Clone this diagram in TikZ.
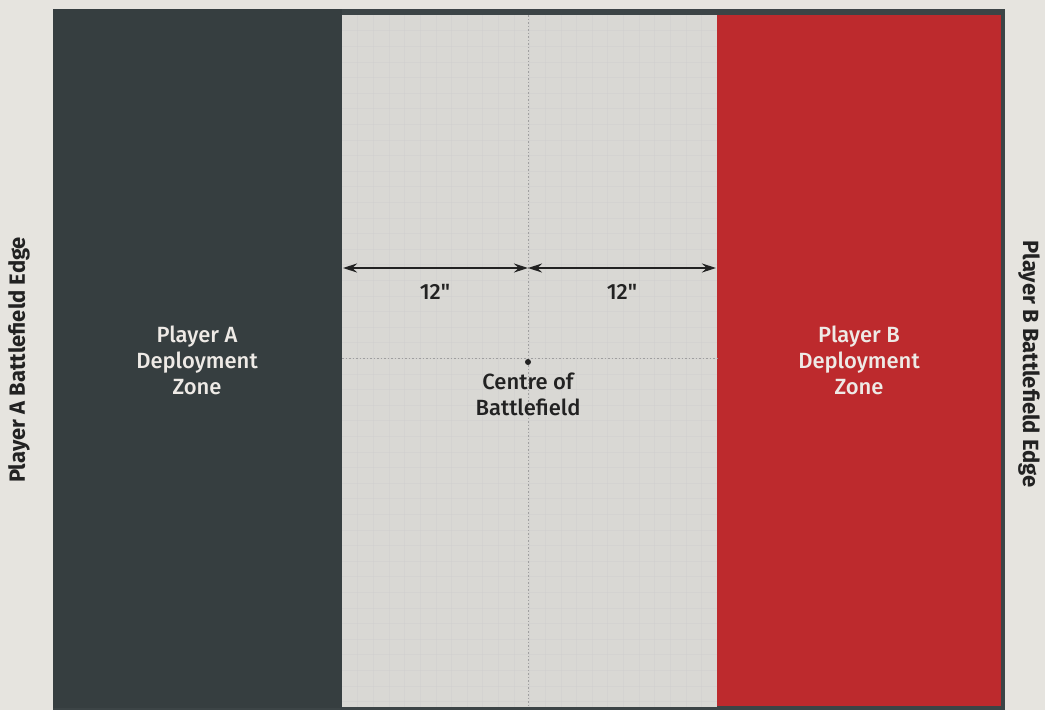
\documentclass[tikz,border=0pt]{standalone}
\usepackage{fontspec}
\setmainfont{Fira Sans}
\newfontfamily\medfont{Fira Sans Medium}
\usetikzlibrary{arrows.meta}
\definecolor{bgc}{HTML}{E6E4DF}
\definecolor{midc}{HTML}{D9D8D4}
\definecolor{darkc}{HTML}{363E40}
\definecolor{redc}{HTML}{BD2A2D}
\definecolor{framec}{HTML}{3C4446}
\definecolor{txtlight}{HTML}{EEEAE6}
\definecolor{txtdark}{HTML}{222222}
\tikzset{
  zonetext/.style={text=txtlight, align=center, font=\medfont\fontsize{22}{26}\selectfont},
  midtext/.style={text=txtdark, align=center, font=\medfont\fontsize{22}{26}\selectfont},
  edgetext/.style={text=txtdark, font=\bfseries\fontsize{22}{26}\selectfont},
  dimarrow/.style={{Stealth[length=14pt,width=9pt]}-{Stealth[length=14pt,width=9pt]}, line width=1.3pt, draw=txtdark},
  guide/.style={draw=gray!75, line width=0.8pt, dash pattern=on 1.5pt off 2pt},
  gridline/.style={draw=gray!40, line width=0.4pt, opacity=0.35}
}
\begin{document}
\begin{tikzpicture}[x=1pt,y=-1pt]
\useasboundingbox (0,0) rectangle (1045,710);
\fill[bgc] (0,0) rectangle (1045,710);
% frame
\fill[framec] (53,9) rectangle (1005,710);
\fill[midc] (342,15) rectangle (717,707);
% faint grid
\foreach \i in {1,...,23} {\draw[gridline] ({342+\i*15.625},15) -- ({342+\i*15.625},707);}
\foreach \j in {1,...,44} {\draw[gridline] (342,{15+\j*15.6}) -- (717,{15+\j*15.6});}
\fill[darkc] (53,9) rectangle (342,708);
\fill[redc] (717,15) rectangle (1001,706);
% guides
\coordinate (topc) at (528,15);
\coordinate (botc) at (528,707);
\coordinate (ml) at (342,358);
\coordinate (mr) at (717,358);
\draw[guide] (topc) -- (botc);
\draw[guide] (ml) -- (mr);
% arrows
\coordinate (L) at (343,268);
\coordinate (C) at (528,268);
\coordinate (R) at (716,268);
\draw[dimarrow] (L) -- (C);
\draw[dimarrow] (C) -- (R);
\node[midtext] (d1) at (435,292) {12\char34};
\node[midtext] (d2) at (622,292) {12\char34};
% centre
\fill[txtdark] (528,362) circle (3pt);
\node[midtext, anchor=north] (ctr) at (528,369) {Centre of\\Battlefield};
% zones
\node[zonetext] (za) at (197,360) {Player A\\Deployment\\Zone};
\node[zonetext] (zb) at (859,360) {Player B\\Deployment\\Zone};
% edges
\node[edgetext, rotate=90] (ea) at (19,360) {Player A Battlefield Edge};
\node[edgetext, rotate=-90] (eb) at (1029,364) {Player B Battlefield Edge};
\end{tikzpicture}
\end{document}
